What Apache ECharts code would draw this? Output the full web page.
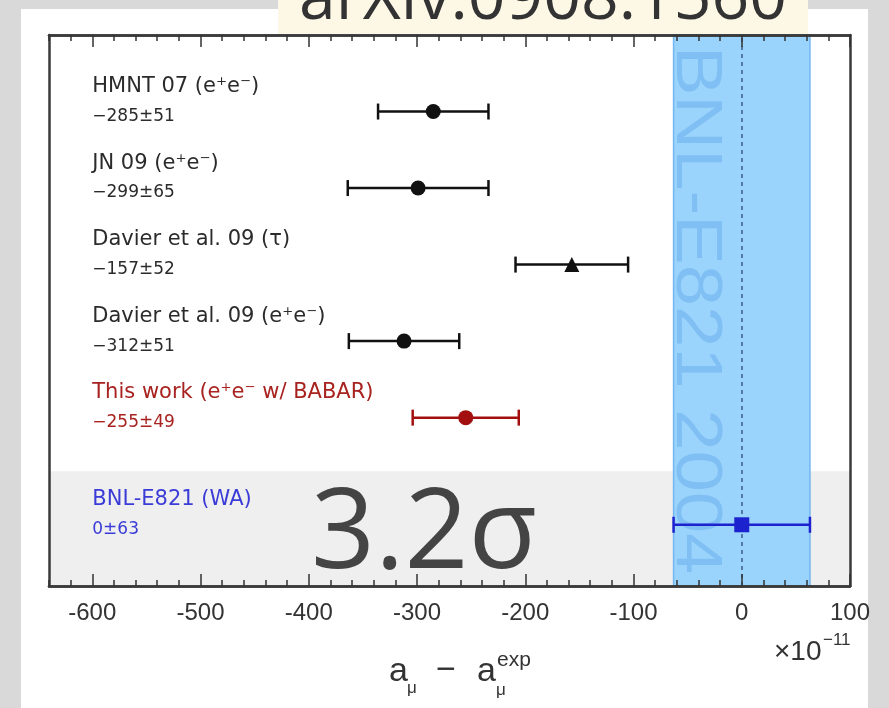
<!DOCTYPE html>
<html>
<head>
<meta charset="utf-8">
<script src="https://cdn.jsdelivr.net/npm/echarts@6/dist/echarts.min.js"></script>
<style>
  html, body { margin: 0; padding: 0; background: #d9d9d9; }
  #chart { width: 889px; height: 708px; }
</style>
</head>
<body>
<div id="chart"></div>
<script>
// measurements, in units of 1e-11
const names = ['HMNT 07 (e⁺e⁻)', 'JN 09 (e⁺e⁻)', 'Davier et al. 09 (τ)', 'Davier et al. 09 (e⁺e⁻)', 'This work (e⁺e⁻ w/ BABAR)', 'BNL-E821 (WA)']
const centers = [-285, -299, -157, -312, -255, 0]
const errors = [51, 65, 52, 51, 49, 63]
const rows = [6.2, 5.2, 4.2, 3.2, 2.2, 0.8]
const markers = ['circle', 'circle', 'triangle', 'circle', 'circle', 'rect']
const markColors = ['#111111', '#111111', '#111111', '#111111', '#a30f0f', '#1d22cf']
const textColors = ['#2b2b2b', '#2b2b2b', '#2b2b2b', '#2b2b2b', '#a8221f', '#3b3bd8']

const majorTicks = [-600, -500, -400, -300, -200, -100, 0, 100]
const minorTicks = []
for (let v = -640; v <= 100; v += 20) minorTicks.push(v)

const bandRange = [-63, 63]
const shadeRange = [0, 1.5]

const fmt = (c, e) => (c < 0 ? '−' + Math.abs(c) : String(c)) + '±' + e

const chart = echarts.init(document.getElementById('chart'))

const frameAxis = (position, ticks, len, showLabel) => ({
  type: 'value',
  position,
  min: -640,
  max: 100,
  z: 10,
  axisLine: { show: true, onZero: false, lineStyle: { color: '#3a3a3a', width: 2.5 } },
  axisTick: { show: true, inside: true, length: len, customValues: ticks, lineStyle: { color: '#333', width: 1.5 } },
  axisLabel: {
    show: showLabel,
    customValues: majorTicks,
    color: '#333',
    fontSize: 24,
    fontFamily: 'Liberation Sans',
    margin: 15,
  },
  splitLine: { show: false },
})

const sideAxis = (position) => ({
  type: 'value',
  position,
  min: 0,
  max: 7.2,
  z: 10,
  axisLine: { show: true, onZero: false, lineStyle: { color: '#3a3a3a', width: 2.5 } },
  axisTick: { show: false },
  axisLabel: { show: false },
  splitLine: { show: false },
})

chart.setOption({
  animation: false,
  grid: { left: 49, right: 39, top: 35, bottom: 122 },
  xAxis: [
    frameAxis('bottom', majorTicks, 12, true),
    frameAxis('bottom', minorTicks, 6, false),
    frameAxis('top', majorTicks, 12, false),
    frameAxis('top', minorTicks, 6, false),
  ],
  yAxis: [sideAxis('left'), sideAxis('right')],
  series: [
    {
      type: 'scatter',
      z: 1,
      data: [],
      markArea: {
        silent: true,
        itemStyle: { color: '#efefef' },
        data: [[{ yAxis: shadeRange[0] }, { yAxis: shadeRange[1] }]],
      },
    },
    {
      type: 'scatter',
      z: 2,
      data: [],
      markArea: {
        silent: true,
        itemStyle: { color: '#9ad3fb', borderColor: '#74b6f0', borderWidth: 1.5 },
        data: [[{ xAxis: bandRange[0] }, { xAxis: bandRange[1] }]],
      },
    },
    {
      type: 'scatter',
      z: 4,
      data: [],
      markLine: {
        silent: true,
        symbol: 'none',
        label: { show: false },
        lineStyle: { color: '#3b5b86', width: 1.5, type: [4, 4] },
        data: [{ xAxis: 0 }],
      },
    },
    {
      type: 'custom',
      z: 5,
      silent: true,
      data: centers.map((c, i) => [c - errors[i], c + errors[i], rows[i], i]),
      encode: { x: [0, 1], y: 2 },
      renderItem: (params, api) => {
        const lo = api.coord([api.value(0), api.value(2)])
        const hi = api.coord([api.value(1), api.value(2)])
        const style = { stroke: markColors[api.value(3)], lineWidth: 2.5 }
        const h = 8
        return {
          type: 'group',
          children: [
            { type: 'line', shape: { x1: lo[0], y1: lo[1], x2: hi[0], y2: hi[1] }, style },
            { type: 'line', shape: { x1: lo[0], y1: lo[1] - h, x2: lo[0], y2: lo[1] + h }, style },
            { type: 'line', shape: { x1: hi[0], y1: hi[1] - h, x2: hi[0], y2: hi[1] + h }, style },
          ],
        }
      },
    },
    {
      type: 'scatter',
      z: 6,
      silent: true,
      data: centers.map((c, i) => ({
        value: [c, rows[i]],
        symbol: markers[i],
        symbolSize: 15,
        itemStyle: { color: markColors[i], opacity: 1 },
      })),
    },
  ],
})

// text labels placed through the axis scales
const labelGraphics = []
names.forEach((name, i) => {
  const p = chart.convertToPixel({ gridIndex: 0 }, [-600, rows[i]])
  labelGraphics.push({
    type: 'text', x: p[0], y: p[1] - 25, z: 8,
    style: { text: name, fill: textColors[i], font: '21px "DejaVu Sans"', textAlign: 'left', textVerticalAlign: 'middle' },
  })
  labelGraphics.push({
    type: 'text', x: p[0], y: p[1] + 5, z: 8,
    style: { text: fmt(centers[i], errors[i]), fill: textColors[i], font: '17px "DejaVu Sans"', textAlign: 'left', textVerticalAlign: 'middle' },
  })
})

chart.setOption({
  graphic: [
    { type: 'rect', z: -10, shape: { x: 21, y: 9, width: 847, height: 710 }, style: { fill: '#ffffff' } },
    { type: 'rect', z: 20, shape: { x: 278, y: 0, width: 530, height: 34 }, style: { fill: '#fdf8e6' } },
    {
      type: 'text', x: 299, y: 0, z: 21,
      style: { text: 'arXiv:0908.1560', fill: '#333', font: '66px "Open Sans"', textAlign: 'left', textVerticalAlign: 'middle' },
    },
    {
      type: 'text', x: 695, y: 46, z: 3, rotation: -Math.PI / 2, scaleX: 1.16,
      style: { text: 'BNL-E821 2004', fill: '#80bff4', font: '64px "Liberation Sans"', textAlign: 'left', textVerticalAlign: 'middle' },
    },
    {
      type: 'text', x: 311, y: 536, z: 7,
      style: { text: '3.2σ', fill: '#444', font: '112px "Open Sans"', textAlign: 'left', textVerticalAlign: 'middle' },
    },
    // x-axis title and multiplier
    { type: 'text', x: 389, y: 672, z: 8, style: { text: 'a', fill: '#333', font: '34px "Liberation Sans"', textVerticalAlign: 'middle' } },
    { type: 'text', x: 407, y: 688, z: 8, style: { text: 'μ', fill: '#333', font: '17px "Liberation Sans"', textVerticalAlign: 'middle' } },
    { type: 'text', x: 436, y: 671, z: 8, style: { text: '−', fill: '#333', font: '34px "Liberation Sans"', textVerticalAlign: 'middle' } },
    { type: 'text', x: 477, y: 672, z: 8, style: { text: 'a', fill: '#333', font: '34px "Liberation Sans"', textVerticalAlign: 'middle' } },
    { type: 'text', x: 496, y: 690, z: 8, style: { text: 'μ', fill: '#333', font: '17px "Liberation Sans"', textVerticalAlign: 'middle' } },
    { type: 'text', x: 497, y: 660, z: 8, style: { text: 'exp', fill: '#333', font: '21px "Liberation Sans"', textVerticalAlign: 'middle' } },
    { type: 'text', x: 774, y: 652, z: 8, style: { text: '×10', fill: '#333', font: '28px "Liberation Sans"', textVerticalAlign: 'middle' } },
    { type: 'text', x: 823, y: 640, z: 8, style: { text: '−11', fill: '#333', font: '17px "Liberation Sans"', textVerticalAlign: 'middle' } },
    ...labelGraphics,
  ],
})
</script>
</body>
</html>
